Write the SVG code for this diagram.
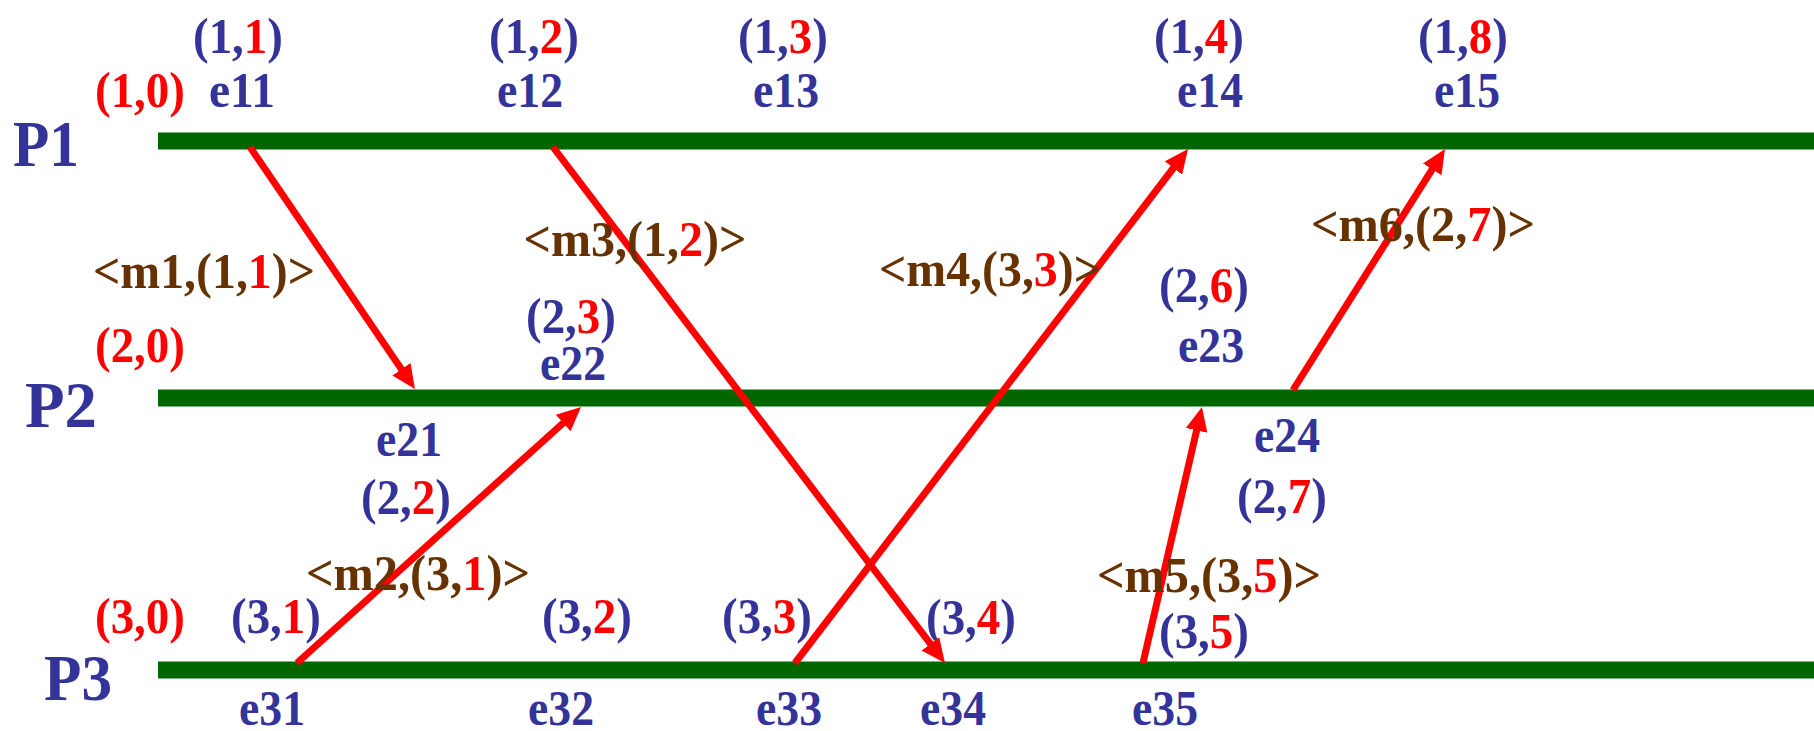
<svg xmlns="http://www.w3.org/2000/svg" width="1814" height="731" viewBox="0 0 1814 731">
<style>
text{font-family:"Liberation Serif","Times New Roman",serif;font-weight:bold;font-size:50px;text-anchor:middle;lengthAdjust:spacingAndGlyphs}
.b{fill:#333399}
.r{fill:#FF0000}
.m{fill:#663300}
.p{font-size:66px;text-anchor:start;fill:#333399}
.ln{stroke:#006600;stroke-width:17}
.msg{stroke:#FF0000;stroke-width:7;fill:none;marker-end:url(#ah)}
</style>
<defs>
<marker id="ah" markerUnits="userSpaceOnUse" markerWidth="24" markerHeight="22" viewBox="0 0 24 22" refX="12" refY="11" orient="auto">
<path d="M0,0 L24,11 L0,22 Z" fill="#FF0000"/>
</marker>
</defs>
<rect width="1814" height="731" fill="#FFFFFF"/>
<g id="P1">
<line class="ln" x1="158" y1="141" x2="1814" y2="141"/>
<text class="p" x="13" y="166" textLength="66" lengthAdjust="spacingAndGlyphs">P1</text>
<text class="r" x="140" y="107" textLength="90" lengthAdjust="spacingAndGlyphs">(1,0)</text>
</g>
<g id="P2">
<line class="ln" x1="158" y1="398" x2="1814" y2="398"/>
<text class="p" x="25" y="427" textLength="72" lengthAdjust="spacingAndGlyphs">P2</text>
<text class="r" x="140" y="362" textLength="90" lengthAdjust="spacingAndGlyphs">(2,0)</text>
</g>
<g id="P3">
<line class="ln" x1="158" y1="670" x2="1814" y2="670"/>
<text class="p" x="44" y="700" textLength="68" lengthAdjust="spacingAndGlyphs">P3</text>
<text class="r" x="140" y="633" textLength="90" lengthAdjust="spacingAndGlyphs">(3,0)</text>
</g>
<g id="e11"><text class="b" x="238" y="53" textLength="90" lengthAdjust="spacingAndGlyphs">(1,<tspan class="r">1</tspan>)</text><text class="b" x="242" y="107" textLength="66" lengthAdjust="spacingAndGlyphs">e11</text></g>
<g id="e12"><text class="b" x="534" y="53" textLength="90" lengthAdjust="spacingAndGlyphs">(1,<tspan class="r">2</tspan>)</text><text class="b" x="530" y="107" textLength="66" lengthAdjust="spacingAndGlyphs">e12</text></g>
<g id="e13"><text class="b" x="783" y="53" textLength="90" lengthAdjust="spacingAndGlyphs">(1,<tspan class="r">3</tspan>)</text><text class="b" x="786" y="107" textLength="66" lengthAdjust="spacingAndGlyphs">e13</text></g>
<g id="e14"><text class="b" x="1199" y="53" textLength="90" lengthAdjust="spacingAndGlyphs">(1,<tspan class="r">4</tspan>)</text><text class="b" x="1210" y="107" textLength="66" lengthAdjust="spacingAndGlyphs">e14</text></g>
<g id="e15"><text class="b" x="1463" y="53" textLength="90" lengthAdjust="spacingAndGlyphs">(1,<tspan class="r">8</tspan>)</text><text class="b" x="1467" y="107" textLength="66" lengthAdjust="spacingAndGlyphs">e15</text></g>
<g id="e21"><text class="b" x="409" y="456" textLength="66" lengthAdjust="spacingAndGlyphs">e21</text><text class="b" x="406" y="514" textLength="90" lengthAdjust="spacingAndGlyphs">(2,<tspan class="r">2</tspan>)</text></g>
<g id="e22"><text class="b" x="571" y="333" textLength="90" lengthAdjust="spacingAndGlyphs">(2,<tspan class="r">3</tspan>)</text><text class="b" x="573" y="380" textLength="66" lengthAdjust="spacingAndGlyphs">e22</text></g>
<g id="e23"><text class="b" x="1204" y="302" textLength="90" lengthAdjust="spacingAndGlyphs">(2,<tspan class="r">6</tspan>)</text><text class="b" x="1211" y="362" textLength="66" lengthAdjust="spacingAndGlyphs">e23</text></g>
<g id="e24"><text class="b" x="1287" y="452" textLength="66" lengthAdjust="spacingAndGlyphs">e24</text><text class="b" x="1282" y="513" textLength="90" lengthAdjust="spacingAndGlyphs">(2,<tspan class="r">7</tspan>)</text></g>
<g id="e31"><text class="b" x="276" y="633" textLength="90" lengthAdjust="spacingAndGlyphs">(3,<tspan class="r">1</tspan>)</text><text class="b" x="272" y="725" textLength="66" lengthAdjust="spacingAndGlyphs">e31</text></g>
<g id="e32"><text class="b" x="587" y="633" textLength="90" lengthAdjust="spacingAndGlyphs">(3,<tspan class="r">2</tspan>)</text><text class="b" x="561" y="725" textLength="66" lengthAdjust="spacingAndGlyphs">e32</text></g>
<g id="e33"><text class="b" x="767" y="633" textLength="90" lengthAdjust="spacingAndGlyphs">(3,<tspan class="r">3</tspan>)</text><text class="b" x="789" y="725" textLength="66" lengthAdjust="spacingAndGlyphs">e33</text></g>
<g id="e34"><text class="b" x="971" y="634" textLength="90" lengthAdjust="spacingAndGlyphs">(3,<tspan class="r">4</tspan>)</text><text class="b" x="953" y="725" textLength="66" lengthAdjust="spacingAndGlyphs">e34</text></g>
<g id="e35"><text class="b" x="1204" y="648" textLength="90" lengthAdjust="spacingAndGlyphs">(3,<tspan class="r">5</tspan>)</text><text class="b" x="1165" y="725" textLength="66" lengthAdjust="spacingAndGlyphs">e35</text></g>
<g id="connectors">
<line class="msg" x1="250" y1="147" x2="408.2" y2="379.1"/>
<line class="msg" x1="297" y1="663" x2="572.1" y2="415.0"/>
<line class="msg" x1="553" y1="147" x2="937.7" y2="653.4"/>
<line class="msg" x1="795" y1="663" x2="1180.7" y2="158.5"/>
<line class="msg" x1="1143" y1="663" x2="1199.3" y2="418.7"/>
<line class="msg" x1="1293" y1="390" x2="1438.6" y2="159.2"/>
<text class="m" x="204" y="288" textLength="222" lengthAdjust="spacingAndGlyphs">&lt;m1,(1,<tspan class="r">1</tspan>)&gt;</text>
<text class="m" x="418" y="590" textLength="224" lengthAdjust="spacingAndGlyphs">&lt;m2,(3,<tspan class="r">1</tspan>)&gt;</text>
<text class="m" x="635" y="256" textLength="223" lengthAdjust="spacingAndGlyphs">&lt;m3,(1,<tspan class="r">2</tspan>)&gt;</text>
<text class="m" x="990" y="286" textLength="222" lengthAdjust="spacingAndGlyphs">&lt;m4,(3,<tspan class="r">3</tspan>)&gt;</text>
<text class="m" x="1209" y="592" textLength="224" lengthAdjust="spacingAndGlyphs">&lt;m5,(3,<tspan class="r">5</tspan>)&gt;</text>
<text class="m" x="1423" y="241" textLength="224" lengthAdjust="spacingAndGlyphs">&lt;m6,(2,<tspan class="r">7</tspan>)&gt;</text>
</g>
</svg>
